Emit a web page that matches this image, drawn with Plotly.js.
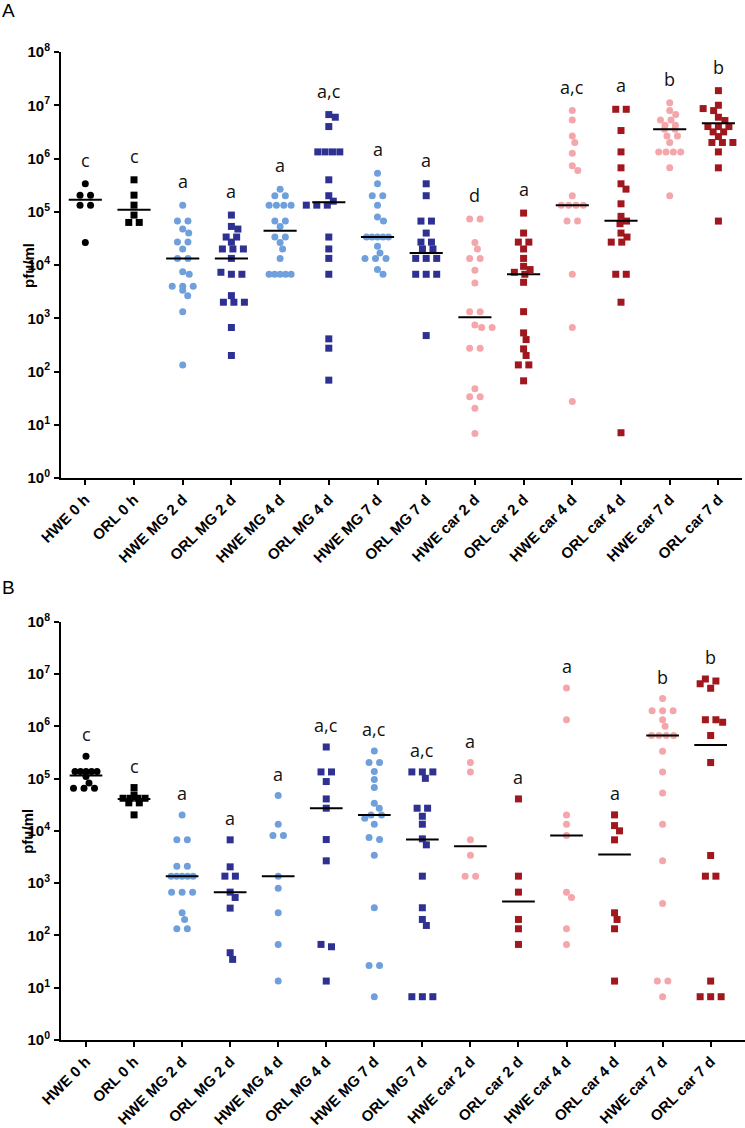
<!DOCTYPE html>
<html>
<head>
<meta charset="utf-8">
<script src="https://cdn.plot.ly/plotly-3.0.1.min.js"></script>
<style>html,body{margin:0;padding:0;background:#fff;}#chart{width:745px;height:1128px;}</style>
</head>
<body>
<div id="chart"></div>
<script>
// ---------- DATA ----------
const categories = ['HWE 0 h','ORL 0 h','HWE MG 2 d','ORL MG 2 d','HWE MG 4 d','ORL MG 4 d','HWE MG 7 d','ORL MG 7 d','HWE car 2 d','ORL car 2 d','HWE car 4 d','ORL car 4 d','HWE car 7 d','ORL car 7 d'];
const yTickExponents = [0,1,2,3,4,5,6,7,8];
const yAxisTitle = 'pfu/ml';
const panelLabels = ['A', 'B'];

// Panel A (pfu/ml)
const A_HWE_0h   = [3.35e5, 2.05e5, 2.05e5, 1.33e5, 1.33e5, 2.66e4];
const A_ORL_0h   = [3.98e5, 2.05e5, 1.33e5, 8.66e4, 6.3e4, 6.3e4];
const A_HWE_MG2  = [1.33e5, 6.68e4, 6.68e4, 4.73e4, 3.98e4, 2.69e4, 2.69e4, 2e4, 1.33e4, 1.33e4, 7.5e3, 6.7e3, 4e3, 4e3, 4e3, 3.35e3, 2.66e3, 1.33e3, 133];
const A_ORL_MG2  = [8.66e4, 5.3e4, 4.73e4, 3.35e4, 3.35e4, 2.69e4, 2e4, 2e4, 2e4, 1.33e4, 7.3e3, 6.7e3, 6.7e3, 2.66e3, 2e3, 2e3, 2e3, 670, 200];
const A_HWE_MG4  = [2.66e5, 2e5, 2e5, 1.33e5, 1.33e5, 1.33e5, 1.33e5, 6.68e4, 6.68e4, 5.3e4, 3.35e4, 3.35e4, 2.66e4, 2e4, 1.33e4, 6.7e3, 6.7e3, 6.7e3, 6.7e3, 6.7e3];
const A_ORL_MG4  = [6.68e6, 5.96e6, 3.98e6, 1.33e6, 1.33e6, 1.33e6, 1.33e6, 3.98e5, 2e5, 1.58e5, 1.33e5, 1.33e5, 1.33e5, 3.35e4, 2e4, 1.33e4, 6.7e3, 410, 274, 68.8];
const A_HWE_MG7  = [5.3e5, 3.35e5, 2e5, 2e5, 1.33e5, 7.94e4, 6.68e4, 3.35e4, 3.35e4, 3.35e4, 3.35e4, 3.35e4, 2.24e4, 1.68e4, 1.33e4, 1.33e4, 1.33e4, 8.2e3, 6.7e3];
const A_ORL_MG7  = [3.35e5, 2e5, 6.68e4, 6.68e4, 3.98e4, 2.69e4, 2.69e4, 2e4, 2e4, 1.33e4, 1.33e4, 1.33e4, 6.7e3, 6.7e3, 6.7e3, 473];
const A_HWE_car2 = [7.29e4, 7.29e4, 2.66e4, 2e4, 1.33e4, 1.33e4, 7.94e3, 4.6e3, 1.33e3, 1.33e3, 750, 668, 668, 274, 274, 47.3, 33.5, 33.5, 20.5, 6.88];
const A_ORL_car2 = [9.44e4, 3.98e4, 2.69e4, 2.69e4, 2e4, 1.33e4, 9.44e3, 8.2e3, 7.3e3, 6.7e3, 4.73e3, 1.33e3, 531, 398, 266, 200, 133, 133, 66.8];
const A_HWE_car4 = [7.94e6, 5.3e6, 2.66e6, 2e6, 1.26e6, 7.29e5, 5.96e5, 2e5, 1.33e5, 1.33e5, 1.33e5, 1.33e5, 6.68e4, 6.68e4, 6.7e3, 668, 27.4];
const A_ORL_car4 = [8.4e6, 8.4e6, 3.35e6, 1.33e6, 6.68e5, 3.35e5, 2.66e5, 1.41e5, 8.2e4, 6.68e4, 5.96e4, 3.98e4, 3.35e4, 2.69e4, 2.69e4, 6.7e3, 6.7e3, 2e3, 7.08];
const A_HWE_car7 = [1.12e7, 7.94e6, 6.68e6, 5.3e6, 5.3e6, 4.2e6, 4.2e6, 3.55e6, 3.55e6, 2.66e6, 2.66e6, 2e6, 1.33e6, 1.33e6, 1.33e6, 1.33e6, 6.68e5, 2e5];
const A_ORL_car7 = [1.88e7, 1e7, 8.66e6, 7.94e6, 5.96e6, 5.16e6, 3.98e6, 3.98e6, 3.98e6, 3.16e6, 3.16e6, 2.58e6, 2e6, 2e6, 2e6, 1.33e6, 6.68e5, 6.68e4];
const medianA  = [1.68e5, 1.09e5, 1.33e4, 1.33e4, 4.4e4, 1.5e5, 3.35e4, 1.68e4, 1.04e3, 6.7e3, 1.33e5, 6.76e4, 3.55e6, 4.6e6];
const lettersA = ['c','c','a','a','a','a,c','a','a','d','a','a,c','a','b','b'];

// Panel B (pfu/ml)
const B_HWE_0h   = [2.67e5, 1.36e5, 1.36e5, 1.36e5, 1.36e5, 1.36e5, 1.1e5, 8.26e4, 6.53e4, 6.53e4, 6.53e4];
const B_ORL_0h   = [6.73e4, 4.87e4, 4.2e4, 4.2e4, 4.2e4, 4.2e4, 3.43e4, 3.43e4, 2.02e4];
const B_HWE_MG2  = [2.02e4, 6.73e3, 6.73e3, 2.11e3, 2.11e3, 1.36e3, 1.36e3, 1.36e3, 1.36e3, 1.36e3, 673, 673, 673, 271, 202, 134, 134];
const B_ORL_MG2  = [6.73e3, 2.05e3, 1.36e3, 1.36e3, 673, 532, 333, 46.7, 34.8];
const B_HWE_MG4  = [4.73e4, 1.34e4, 8.15e3, 8.15e3, 1.36e3, 801, 271, 67.3, 13.4];
const B_ORL_MG4  = [4.03e5, 1.34e5, 1.34e5, 8.77e4, 4.08e4, 2.71e4, 6.82e3, 2.67e3, 67.3, 60.7, 13.4];
const B_HWE_MG7  = [3.38e5, 2.02e5, 2.02e5, 1.36e5, 9.57e4, 6.73e4, 3.38e4, 2.71e4, 2.02e4, 2.02e4, 1.75e4, 1.34e4, 7.46e3, 6.82e3, 3.43e3, 338, 26.7, 26.7, 6.73];
const B_ORL_MG7  = [1.34e5, 1.34e5, 1.34e5, 1.01e5, 2.71e4, 2.71e4, 1.9e4, 1.34e4, 7.03e3, 5.4e3, 1.36e3, 338, 202, 155, 6.73, 6.73, 6.73];
const B_HWE_car2 = [2.02e5, 1.34e5, 6.73e3, 3.43e3, 1.36e3, 1.36e3];
const B_ORL_car2 = [4.08e4, 1.36e3, 673, 202, 134, 67.3];
const B_HWE_car4 = [5.4e6, 1.34e6, 2.02e4, 1.34e4, 8.15e3, 673, 532, 134, 67.3];
const B_ORL_car4 = [2.02e4, 1.26e4, 1e4, 6.73e3, 271, 202, 134, 13.4];
const B_HWE_car7 = [3.38e6, 1.99e6, 1.99e6, 1.99e6, 1.34e6, 1e6, 6.64e5, 6.64e5, 6.64e5, 6.64e5, 3.33e5, 1.34e5, 5.32e4, 1.34e4, 2.67e3, 408, 13.4, 13.4, 6.73];
const B_ORL_car7 = [8.02e6, 7.34e6, 6.53e6, 5.32e6, 1.34e6, 1.34e6, 1.19e6, 6.64e5, 2.02e5, 3.38e3, 1.36e3, 1.36e3, 13.4, 6.73, 6.73, 6.73];
const medianB  = [1.14e5, 4.08e4, 1.36e3, 673, 1.36e3, 2.71e4, 2.02e4, 6.82e3, 5.09e3, 447, 8.15e3, 3.53e3, 6.64e5, 4.4e5];
const lettersB = ['c','c','a','a','a','a,c','a,c','a,c','a','a','a','a','b','b'];

const groupsA = [A_HWE_0h, A_ORL_0h, A_HWE_MG2, A_ORL_MG2, A_HWE_MG4, A_ORL_MG4, A_HWE_MG7, A_ORL_MG7, A_HWE_car2, A_ORL_car2, A_HWE_car4, A_ORL_car4, A_HWE_car7, A_ORL_car7];
const groupsB = [B_HWE_0h, B_ORL_0h, B_HWE_MG2, B_ORL_MG2, B_HWE_MG4, B_ORL_MG4, B_HWE_MG7, B_ORL_MG7, B_HWE_car2, B_ORL_car2, B_HWE_car4, B_ORL_car4, B_HWE_car7, B_ORL_car7];

// ---------- STYLE ----------
function colorFor(cat) {
  const hwe = cat.startsWith('HWE');
  if (cat.indexOf(' 0 h') >= 0) return '#000000';
  if (cat.indexOf('MG') >= 0) return hwe ? '#6fa0dc' : '#2e3192';
  return hwe ? '#f4a6aa' : '#a0181e';
}
function symbolFor(cat) { return cat.startsWith('HWE') ? 'circle' : 'square'; }

const W = 745, H = 1128;
const SANS = 'Liberation Sans, Arial, sans-serif';
// pixel geometry of the two panels
const geomA = {x0: 61, x1: 742, yTop: 52, yBot: 478, cat0: 85.3, catPx: 48.7, labelY: 11};
const geomB = {x0: 61, x1: 745, yTop: 621.7, yBot: 1040, cat0: 86, catPx: 48.05, labelY: 587};

// simple row-based beeswarm in pixel space
function swarm(vals, decPx, D) {
  const pts = vals.map(v => ({v: v, y: Math.log10(v) * decPx})).sort((a, b) => b.y - a.y);
  const rows = []; let cur = null;
  pts.forEach(p => { if (cur && cur[0].y - p.y <= 2.5) cur.push(p); else { cur = [p]; rows.push(cur); } });
  const placed = []; const out = [];
  rows.forEach(r => {
    const n = r.length;
    const sp = n > 1 ? Math.min(10.5, 22 / (n - 1)) : 0;
    let best = 0;
    outer:
    for (let k = 0; k <= 26; k++) {
      const cands = k === 0 ? [0] : [k * 0.5, -k * 0.5];
      for (const c of cands) {
        const xs = r.map((p, j) => (j - (n - 1) / 2) * sp + c);
        const ok = r.every((p, j) => placed.every(q => Math.hypot(q.x - xs[j], q.y - p.y) >= D));
        if (ok) { best = c; break outer; }
      }
    }
    r.forEach((p, j) => { const x = (j - (n - 1) / 2) * sp + best; placed.push({x: x, y: p.y}); out.push({v: p.v, x: x}); });
  });
  return out;
}

const traces = [];
const annotations = [];
function buildPanel(groups, medians, letters, geom, xa, ya, letterShift, label) {
  const decPx = (geom.yBot - geom.yTop) / 8;
  groups.forEach((vals, gi) => {
    const cat = categories[gi];
    const sw = swarm(vals, decPx, 7);
    traces.push({
      type: 'scatter', mode: 'markers', xaxis: xa, yaxis: ya, showlegend: false, hoverinfo: 'y',
      x: sw.map(p => gi + p.x / geom.catPx), y: sw.map(p => p.v),
      marker: {symbol: symbolFor(cat), size: 7, color: colorFor(cat), line: {width: 0}}
    });
    annotations.push({
      xref: xa, yref: ya, x: gi, y: Math.log10(Math.max.apply(null, vals)), yshift: letterShift,
      text: letters[gi], showarrow: false, xanchor: 'center', yanchor: 'middle',
      font: {family: 'Open Sans, sans-serif', size: 18, color: '#111'}
    });
  });
  const mx = [], my = [];
  medians.forEach((m, gi) => { mx.push(gi - 0.34, gi + 0.34, null); my.push(m, m, null); });
  traces.push({type: 'scatter', mode: 'lines', xaxis: xa, yaxis: ya, showlegend: false, hoverinfo: 'skip',
    x: mx, y: my, line: {color: '#000', width: 2}});
  // y-axis title, placed like the original (close to the tick labels)
  annotations.push({xref: 'paper', yref: 'paper', x: 28 / W, y: 1 - ((geom.yTop + geom.yBot) / 2) / H,
    text: '<b>' + yAxisTitle + '</b>', textangle: -90, showarrow: false, xanchor: 'center', yanchor: 'middle',
    font: {family: SANS, size: 15, color: '#000'}});
  // panel letter
  annotations.push({xref: 'paper', yref: 'paper', x: 8 / W, y: 1 - geom.labelY / H, text: label, showarrow: false,
    xanchor: 'center', yanchor: 'middle', font: {family: SANS, size: 19, color: '#000'}});
}
buildPanel(groupsA, medianA, lettersA, geomA, 'x', 'y', 24, panelLabels[0]);
buildPanel(groupsB, medianB, lettersB, geomB, 'x2', 'y2', 22, panelLabels[1]);

const tickFontX = {family: SANS, size: 15, color: '#000', weight: 'bold'};
const tickFontY = {family: SANS, size: 15, color: '#000', weight: 'bold'};
const yTickText = yTickExponents.map(e => '<b>10<sup>' + e + '</sup></b>');
const yTickVals = yTickExponents.map(e => Math.pow(10, e));

function xAxis(geom, anchor) {
  return {
    domain: [geom.x0 / W, geom.x1 / W], anchor: anchor,
    range: [(geom.x0 - geom.cat0) / geom.catPx, (geom.x1 - geom.cat0) / geom.catPx],
    tickmode: 'array', tickvals: categories.map((c, i) => i), ticktext: categories.map(c => '<b>' + c + '</b>'),
    tickangle: -45, tickfont: tickFontX, ticks: 'outside', ticklen: 5, tickwidth: 2, tickcolor: '#000',
    showline: true, linecolor: '#000', linewidth: 2, showgrid: false, zeroline: false, fixedrange: true
  };
}
function yAxis(geom, anchor) {
  return {
    domain: [1 - geom.yBot / H, 1 - geom.yTop / H], anchor: anchor, type: 'log', range: [0, 8],
    tickmode: 'array', tickvals: yTickVals, ticktext: yTickText, tickfont: tickFontY,
    ticks: 'outside', ticklen: 5, tickwidth: 2, tickcolor: '#000', ticklabelstandoff: 1,
    showline: true, linecolor: '#000', linewidth: 2, showgrid: false, zeroline: false, fixedrange: true
  };
}

const layout = {
  width: W, height: H, margin: {l: 0, r: 0, t: 0, b: 0}, paper_bgcolor: '#fff', plot_bgcolor: '#fff',
  showlegend: false,
  xaxis: xAxis(geomA, 'y'), yaxis: yAxis(geomA, 'x'),
  xaxis2: xAxis(geomB, 'y2'), yaxis2: yAxis(geomB, 'x2'),
  annotations: annotations
};
Plotly.newPlot('chart', traces, layout, {displayModeBar: false, staticPlot: true});
</script>
</body>
</html>
